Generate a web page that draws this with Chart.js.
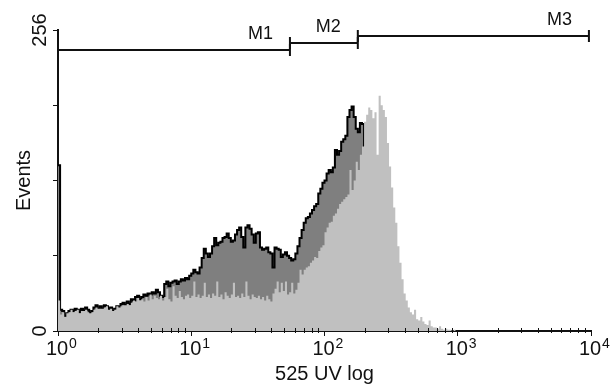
<!DOCTYPE html>
<html lang="en">
<head>
<meta charset="UTF-8">
<title>525 UV log histogram</title>
<script src="https://cdn.jsdelivr.net/npm/chart.js"></script>
<style>
  html, body { margin: 0; padding: 0; background: #fff; }
  #wrap { width: 616px; height: 388px; }
</style>
</head>
<body>
<div id="wrap"><canvas id="histChart"></canvas></div>
<script>
// 256 channels spread over 4 log decades (64 channels per decade)
const channelsPerDecade = 64;
const channels = Array.from({ length: 256 }, (_, i) => i);
const decadeExponents = ['0', '1', '2', '3', '4'];
const yLabelValues = [0, 256];
const yTickValues = [0, 64, 128, 192, 256];

// light grey histogram (drawn on top)
const lightCounts = [
  26,
  14, 16, 12, 15, 16, 18, 16, 17, 18, 15,
  17, 17, 18, 16, 15, 16, 18, 20, 19, 19,
  19, 20, 21, 18, 19, 17, 18, 21, 20, 21,
  22, 22, 23, 22, 24, 26, 25, 28, 26, 27,
  25, 29, 26, 31, 27, 30, 28, 27, 30, 26,
  29, 36, 27, 25, 38, 30, 28, 34, 29, 27,
  30, 31, 28, 30, 42, 29, 31, 28, 30, 41,
  29, 31, 28, 32, 30, 42, 29, 31, 27, 33,
  30, 28, 31, 41, 29, 30, 28, 32, 29, 42,
  30, 27, 31, 29, 28, 30, 27, 29, 26, 30,
  27, 25, 32, 36, 42, 33, 41, 34, 42, 31,
  33, 41, 32, 35, 41, 52, 48, 52, 54, 55,
  58, 60, 63, 62, 68, 71, 73, 84, 88, 92,
  93, 98, 100, 104, 108, 110, 112, 114, 116, 137,
  120, 128, 144, 137, 150, 157, 178, 184, 190, 188,
  181, 186, 150, 200, 192, 188, 182, 160, 140, 122,
  105, 92, 72, 58, 44, 32, 26, 20, 16, 14,
  18, 10, 9, 12, 8, 6, 5, 9, 4, 3,
  3, 2, 4, 2, 1, 2, 1, 1, 0, 1,
  0
];

// dark grey histogram with black outline (drawn underneath)
const darkCounts = [
  141,
  18, 17, 13, 15, 17, 18, 17, 19, 18, 16,
  19, 17, 20, 18, 15, 17, 20, 22, 19, 21,
  19, 22, 21, 18, 20, 17, 19, 21, 20, 23,
  24, 22, 25, 23, 27, 26, 29, 30, 27, 29,
  31, 30, 32, 31, 33, 32, 35, 33, 30, 29,
  40, 42, 38, 41, 42, 43, 40, 42, 44, 43,
  45, 44, 47, 49, 52, 50, 49, 54, 62, 70,
  66, 63, 66, 72, 79, 73, 75, 76, 79, 80,
  83, 79, 76, 77, 82, 86, 88, 80, 71, 88,
  90, 87, 82, 75, 83, 84, 71, 69, 70, 71,
  67, 66, 54, 71, 70, 69, 63, 65, 67, 64,
  62, 60, 61, 66, 72, 79, 86, 92, 96, 97,
  100, 103, 106, 108, 117, 121, 126, 128, 134, 137,
  135, 139, 154, 150, 153, 161, 163, 166, 182, 188,
  191, 182, 172, 169, 177, 176, 140, 118, 96, 74,
  52, 34, 20, 11, 6, 3, 1, 0
];

// marker regions, in channels
const markerNames = ['M1', 'M2', 'M3'];
const markerStart = [0, 111.4, 144];
const markerEnd = [111.4, 144, 255];
const markerLevel = [239, 245, 251];

const chartFont = '"Liberation Sans", Arial, sans-serif';
const ink = '#111';

const labelPlugin = {
  id: 'cytoLabels',
  afterDraw(chart) {
    const { ctx, scales: { x, y } } = chart;
    ctx.save();
    ctx.fillStyle = ink;
    ctx.strokeStyle = ink;

    // minor log ticks (point into the plot)
    ctx.lineWidth = 1;
    ctx.beginPath();
    for (let d = 0; d < decadeExponents.length - 1; d++) {
      for (let m = 2; m < 10; m++) {
        const px = Math.round(x.getPixelForValue(channelsPerDecade * (d + Math.log10(m)))) + 0.5;
        ctx.moveTo(px, y.bottom - 3);
        ctx.lineTo(px, y.bottom + 2);
      }
    }
    ctx.stroke();

    // decade labels 10^n
    ctx.textBaseline = 'alphabetic';
    decadeExponents.forEach((e, d) => {
      const px = x.getPixelForValue(channelsPerDecade * d);
      ctx.font = '20px ' + chartFont;
      ctx.textAlign = 'center';
      const w = ctx.measureText('10').width;
      ctx.fillText('10', px - 1, y.bottom + 24);
      ctx.font = '14px ' + chartFont;
      ctx.textAlign = 'left';
      ctx.fillText(e, px - 1 + w / 2 + 1, y.bottom + 17);
    });

    // y labels, rotated
    ctx.font = '20px ' + chartFont;
    ctx.textAlign = 'center';
    yLabelValues.forEach(v => {
      ctx.save();
      ctx.translate(x.left - 12, y.getPixelForValue(v));
      ctx.rotate(-Math.PI / 2);
      ctx.fillText(String(v), 0, 0);
      ctx.restore();
    });

    // markers
    ctx.lineWidth = 2;
    ctx.font = '18px ' + chartFont;
    ctx.textAlign = 'right';
    markerNames.forEach((name, i) => {
      const x1 = x.getPixelForValue(markerStart[i]);
      const x2 = x.getPixelForValue(markerEnd[i]);
      const py = Math.round(y.getPixelForValue(markerLevel[i]));
      ctx.beginPath();
      ctx.moveTo(x1, py);
      ctx.lineTo(x2, py);
      ctx.moveTo(x1, py - 6);
      ctx.lineTo(x1, py + 6);
      ctx.moveTo(x2, py - 6);
      ctx.lineTo(x2, py + 6);
      ctx.stroke();
      ctx.fillText(name, x2 - 17, py - 11);
    });

    ctx.restore();
  }
};

new Chart(document.getElementById('histChart'), {
  type: 'line',
  data: {
    labels: channels,
    datasets: [
      {
        label: 'light',
        data: lightCounts,
        stepped: 'before',
        fill: 'origin',
        backgroundColor: '#c0c0c0',
        borderColor: 'transparent',
        borderWidth: 1,
        pointRadius: 0,
        order: 1
      },
      {
        label: 'dark',
        data: darkCounts,
        stepped: 'before',
        fill: 'origin',
        backgroundColor: '#7f7f7f',
        borderColor: '#000',
        borderWidth: 2,
        pointRadius: 0,
        order: 2
      }
    ]
  },
  options: {
    responsive: true,
    maintainAspectRatio: false,
    animation: false,
    layout: { padding: { top: 30, right: 25, left: 0, bottom: 0 } },
    plugins: { legend: { display: false }, tooltip: { enabled: false } },
    scales: {
      x: {
        type: 'linear',
        min: 0,
        max: 256,
        afterBuildTicks: scale => { scale.ticks = [0, 64, 128, 192, 256].map(v => ({ value: v })); },
        afterFit: scale => { scale.height = 57; },
        ticks: { display: false },
        grid: { drawOnChartArea: false, tickLength: 5, color: ink, tickWidth: 1 },
        border: { color: ink, width: 2 },
        title: {
          display: true,
          text: '525 UV log',
          color: ink,
          font: { family: chartFont, size: 20 },
          padding: { top: 0, bottom: 2 }
        }
      },
      y: {
        min: 0,
        max: 256,
        afterBuildTicks: scale => { scale.ticks = yTickValues.map(v => ({ value: v })); },
        afterFit: scale => { scale.width = 58; },
        ticks: { display: false },
        grid: { drawOnChartArea: false, tickLength: 5, color: ink, tickWidth: 1 },
        border: { color: ink, width: 2 },
        title: {
          display: true,
          text: 'Events',
          color: ink,
          font: { family: chartFont, size: 20 },
          padding: { top: 12, bottom: 0 }
        }
      }
    }
  },
  plugins: [labelPlugin]
});
</script>
</body>
</html>
